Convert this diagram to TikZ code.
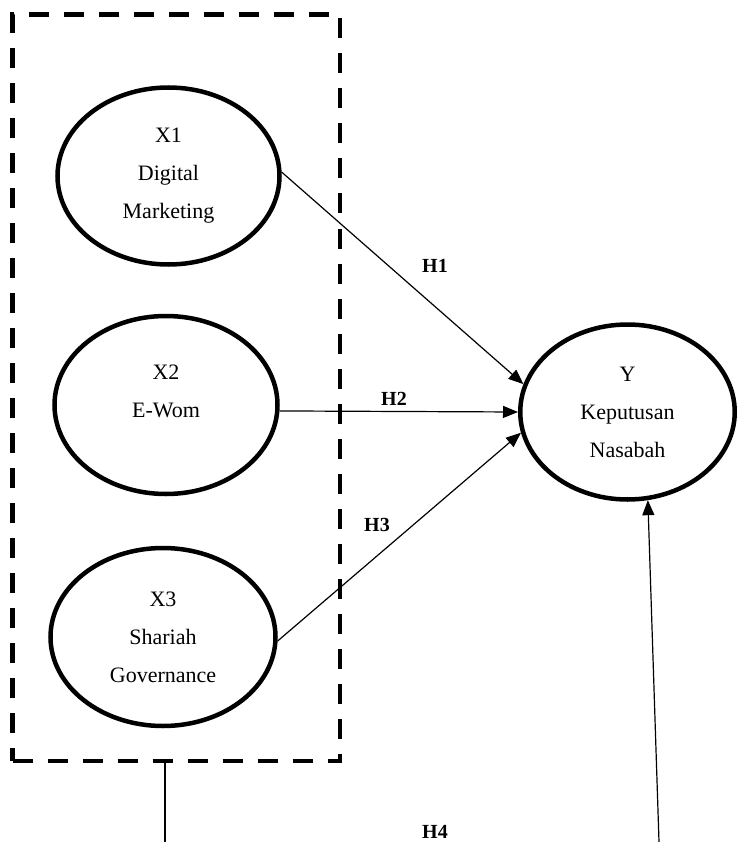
\documentclass[tikz,border=0pt]{standalone}
\usepackage{fontspec}
\setmainfont{Liberation Serif}
\usetikzlibrary{shapes.geometric,arrows.meta}
\tikzset{
  latent/.style={ellipse, draw, line width=4.5pt, inner sep=0pt, align=center,
    font=\fontsize{22pt}{38pt}\selectfont},
  txt/.style={inner sep=0pt, align=center, font=\fontsize{22pt}{38pt}\selectfont},
  hyp/.style={inner sep=0pt, font=\fontsize{20pt}{24pt}\selectfont\bfseries},
  path/.style={line width=1.2pt, -{Triangle[length=15pt,width=12pt]}},
  plain/.style={line width=1.2pt},
  grpbox/.style={rectangle, draw, line width=4.5pt, dash pattern=on 20pt off 15pt,
    inner sep=0pt, minimum width=327.5pt, minimum height=746.5pt}
}
\begin{document}
\begin{tikzpicture}[x=1pt,y=-1pt]
\useasboundingbox (0,0) rectangle (738,842);
\node[grpbox] (grp) at (176.25,387.75) {};
\node[latent, minimum width=222pt, minimum height=177pt] (X1) at (168.5,176) {X1\\Digital\\Marketing};
\node[latent, minimum width=223pt, minimum height=178pt] (X2) at (166,405) {};
\node[txt] (X2t) at (166,391) {X2\\E-Wom};
\node[latent, minimum width=225pt, minimum height=178pt] (X3) at (163,637) {X3\\Shariah\\Governance};
\node[latent, minimum width=214.5pt, minimum height=175pt] (Y) at (627.5,412) {Y\\Keputusan\\Nasabah};
\draw[path] (X1.2) -- (Y.165);
\draw[path] (X2.-3.5) -- (Y.west);
\draw[path] (X3.-2) -- (Y.191);
\coordinate (l4) at (165,842);
\coordinate (r4) at (659,842);
\draw[plain] (grp.south -| l4) -- (l4);
\draw[path] (r4) -- (Y.-77);
\node[hyp] (H1) at (435,266) {H1};
\node[hyp] (H2) at (394,399) {H2};
\node[hyp] (H3) at (377,525) {H3};
\node[hyp] (H4) at (435,832) {H4};
\end{tikzpicture}
\end{document}
